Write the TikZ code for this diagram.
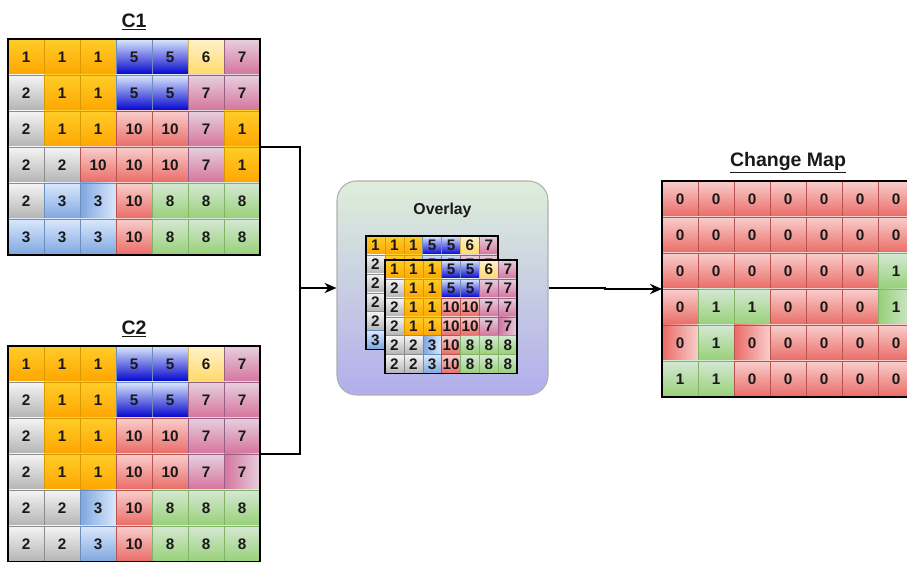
\documentclass[tikz,border=0pt]{standalone}
\usepackage{fontspec}
\setmainfont{Liberation Sans}
\usepackage{xcolor}
\usepackage{tikz}
\usetikzlibrary{positioning,arrows.meta,fit,calc}
\definecolor{orT}{RGB}{255,205,40}
\definecolor{orB}{RGB}{255,165,0}
\definecolor{orS}{RGB}{215,155,0}
\definecolor{grT}{RGB}{245,245,245}
\definecolor{grB}{RGB}{179,179,179}
\definecolor{grS}{RGB}{140,140,140}
\definecolor{blT}{RGB}{218,232,252}
\definecolor{blB}{RGB}{126,166,224}
\definecolor{blS}{RGB}{108,142,191}
\definecolor{dbB}{RGB}{0,0,204}
\definecolor{rdT}{RGB}{248,206,204}
\definecolor{rdB}{RGB}{234,107,102}
\definecolor{rdS}{RGB}{184,84,80}
\definecolor{gnT}{RGB}{213,232,212}
\definecolor{gnB}{RGB}{151,208,119}
\definecolor{gnS}{RGB}{130,179,102}
\definecolor{pkT}{RGB}{230,208,222}
\definecolor{pkB}{RGB}{213,115,157}
\definecolor{pkS}{RGB}{150,97,133}
\definecolor{yeT}{RGB}{255,242,204}
\definecolor{yeB}{RGB}{255,217,102}
\definecolor{yeS}{RGB}{214,182,86}
\definecolor{ovT}{RGB}{222,238,218}
\definecolor{ovB}{RGB}{178,174,236}
\definecolor{ovS}{RGB}{175,175,175}
% class labels of the two dates and the change map
\newcommand\gridone{%
  {1/or,1/or,1/or,5/db,5/db,6/ye,7/pk},
  {2/gr,1/or,1/or,5/db,5/db,7/pk,7/pk},
  {2/gr,1/or,1/or,10/rd,10/rd,7/pk,1/or},
  {2/gr,2/gr,10/rd,10/rd,10/rd,7/pk,1/or},
  {2/gr,3/bl,3/blh,10/rd,8/gn,8/gn,8/gn},
  {3/bl,3/bl,3/bl,10/rd,8/gn,8/gn,8/gn}}
\newcommand\gridtwo{%
  {1/or,1/or,1/or,5/db,5/db,6/ye,7/pk},
  {2/gr,1/or,1/or,5/db,5/db,7/pk,7/pk},
  {2/gr,1/or,1/or,10/rd,10/rd,7/pk,7/pk},
  {2/gr,1/or,1/or,10/rd,10/rd,7/pk,7/pkh},
  {2/gr,2/gr,3/blh,10/rd,8/gn,8/gn,8/gn},
  {2/gr,2/gr,3/bl,10/rd,8/gn,8/gn,8/gn}}
\newcommand\gridchg{%
  {0/rd,0/rd,0/rd,0/rd,0/rd,0/rd,0/rd},
  {0/rd,0/rd,0/rd,0/rd,0/rd,0/rd,0/rd},
  {0/rd,0/rd,0/rd,0/rd,0/rd,0/rd,1/gn},
  {0/rd,1/gn,1/gn,0/rd,0/rd,0/rd,1/gnh},
  {0/rdh,1/gn,0/rdh,0/rd,0/rd,0/rd,0/rd},
  {1/gn,1/gn,0/rd,0/rd,0/rd,0/rd,0/rd}}

\begin{document}
\begin{tikzpicture}[
  cell/.style={minimum size=1.2cm, inner sep=0, outer sep=0, line width=0.4pt, text=black!90, font=\bfseries\fontsize{14.5}{16}\selectfont},
  mcell/.style={cell, minimum size=0.63cm},
  frame/.style={draw=black, line width=2.4pt, inner sep=0, outer sep=0},
  mframe/.style={frame, line width=1.6pt},
  ttl/.style={font=\bfseries\fontsize{18.5}{20}\selectfont, text=black!90, anchor=base},
  arr/.style={-{Stealth[length=4mm, width=3.4mm, inset=1.3mm]}, line width=1.8pt},
  wire/.style={line width=1.8pt},
  or/.style={top color=orT, bottom color=orB, draw=orS},
  gr/.style={top color=grT, bottom color=grB, draw=grS},
  bl/.style={top color=blT, bottom color=blB, draw=blS},
  blh/.style={left color=blB, right color=blT, draw=blS},
  db/.style={top color=blT, bottom color=dbB, draw=blS},
  rd/.style={top color=rdT, bottom color=rdB, draw=rdS},
  rdh/.style={left color=rdB, right color=rdT, draw=rdS},
  gn/.style={top color=gnT, bottom color=gnB, draw=gnS},
  gnh/.style={left color=gnB, right color=gnT, draw=gnS},
  pk/.style={top color=pkT, bottom color=pkB, draw=pkS},
  pkh/.style={left color=pkB, right color=pkT, draw=pkS},
  ye/.style={top color=yeT, bottom color=yeB, draw=yeS},
]
\useasboundingbox (0,0) rectangle (30.233,18.7);
\clip (0,0) rectangle (30.233,18.7);
% C1
\foreach \row [count=\r] in \gridone {
  \foreach \v/\k [count=\c] in \row {
    \node[cell, \k] (p-\r-\c) at (\c*1.2-0.333, 18.0-\r*1.2) {\v};
  }
}
\node[frame, fit=(p-1-1)(p-6-7)] (c1) {};
\node[ttl] at ([yshift=0.37cm]c1.north) {\underline{C1}};
% C2
\foreach \row [count=\r] in \gridtwo {
  \foreach \v/\k [count=\c] in \row {
    \node[cell, \k] (q-\r-\c) at (\c*1.2-0.333, 7.767-\r*1.2) {\v};
  }
}
\node[frame, fit=(q-1-1)(q-6-7)] (c2) {};
\node[ttl] at ([yshift=0.37cm]c2.north) {\underline{C2}};
% Overlay
\node[draw=ovS, line width=1pt, rounded corners=0.65cm, top color=ovT, bottom color=ovB,
  minimum width=7.033cm, minimum height=7.133cm] (ovl) at (14.75, 9.1) {};
\node[ttl, font=\bfseries\fontsize{15}{17}\selectfont] at ([yshift=-1.13cm]ovl.north) {Overlay};
\foreach \row [count=\r] in \gridone {
  \foreach \v/\k [count=\c] in \row {
    \node[mcell, \k] (u-\r-\c) at (11.885+\c*0.63, 11.148-\r*0.63) {\v};
  }
}
\node[mframe, fit=(u-1-1)(u-6-7)] (ov1) {};
\foreach \row [count=\r] in \gridtwo {
  \foreach \v/\k [count=\c] in \row {
    \node[mcell, \k] (v-\r-\c) at (12.518+\c*0.63, 10.348-\r*0.63) {\v};
  }
}
\node[mframe, fit=(v-1-1)(v-6-7)] (ov2) {};
% Change Map
\foreach \row [count=\r] in \gridchg {
  \foreach \v/\k [count=\c] in \row {
    \node[cell, \k] (m-\r-\c) at (21.467+\c*1.2, 13.267-\r*1.2) {\v};
  }
}
\node[frame, fit=(m-1-1)(m-6-7)] (chg) {};
\node[ttl] at ([yshift=0.47cm]chg.north) {\underline{Change Map}};
% connectors
\coordinate (join) at (10, 9.1);
\draw[wire] (c1.east) -| (join |- c2.east) -- (c2.east);
\draw[arr] (join) -- (ovl.west);
\draw[arr] (ovl.east) -| ($(ovl.east)!0.5!(chg.west)$) |- (chg.west);
\end{tikzpicture}
\end{document}
